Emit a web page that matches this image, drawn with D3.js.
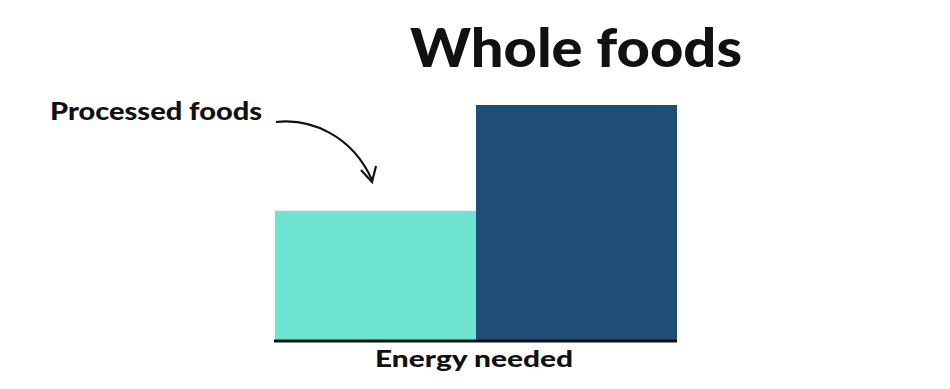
<!DOCTYPE html>
<html lang="en">
<head>
<meta charset="UTF-8" />
<title>Whole foods vs processed foods</title>
<script src="https://d3js.org/d3.v7.min.js"></script>
<style>
  body { margin: 0; background: #fff; }
  svg text { font-family: Lato, "DejaVu Sans", sans-serif; fill: #111; }
</style>
</head>
<body>
<div id="chart"></div>
<script>
// data
const categories = ["Processed foods", "Whole foods"];
const energyValues = [55, 100];
const barColors = ["#6ee3d0", "#1f4e79"];
const axisLabel = "Energy needed";

const W = 950, H = 389;
const svg = d3.select("#chart").append("svg")
  .attr("width", W).attr("height", H);

const x = d3.scaleBand().domain(categories).range([275, 677]).padding(0);
const y = d3.scaleLinear().domain([0, 100]).range([340, 105]);

// bars
svg.selectAll("rect.bar")
  .data(categories)
  .enter().append("rect")
  .attr("class", "bar")
  .attr("x", d => x(d))
  .attr("width", x.bandwidth())
  .attr("y", (d, i) => y(energyValues[i]))
  .attr("height", (d, i) => y(0) - y(energyValues[i]))
  .attr("fill", (d, i) => barColors[i]);

// baseline
svg.append("line")
  .attr("x1", x.range()[0] - 1).attr("x2", x.range()[1])
  .attr("y1", y(0) + 1).attr("y2", y(0) + 1)
  .attr("stroke", "#111").attr("stroke-width", 3);

// axis label (wide geometric look -> stretch to reference width)
svg.append("text")
  .attr("x", 375)
  .attr("y", 367)
  .attr("font-size", 22).attr("font-weight", 900)
  .attr("textLength", 198).attr("lengthAdjust", "spacingAndGlyphs")
  .text(axisLabel);

// whole foods title above its bar
svg.append("text")
  .attr("x", 410)
  .attr("y", 67)
  .attr("font-size", 53).attr("font-weight", 900)
  .attr("textLength", 332).attr("lengthAdjust", "spacingAndGlyphs")
  .text(categories[1]);

// processed foods label with curved arrow
svg.append("text")
  .attr("x", 50).attr("y", 120)
  .attr("font-size", 24).attr("font-weight", 900)
  .attr("textLength", 212).attr("lengthAdjust", "spacingAndGlyphs")
  .text(categories[0]);

svg.append("path")
  .attr("d", "M276,122 C310,118 352,135 372,180")
  .attr("fill", "none").attr("stroke", "#111").attr("stroke-width", 2.2);

svg.append("path")
  .attr("d", "M361,170 L372,182 L376,166")
  .attr("fill", "none").attr("stroke", "#111").attr("stroke-width", 2.2)
  .attr("stroke-linejoin", "miter");
</script>
</body>
</html>
